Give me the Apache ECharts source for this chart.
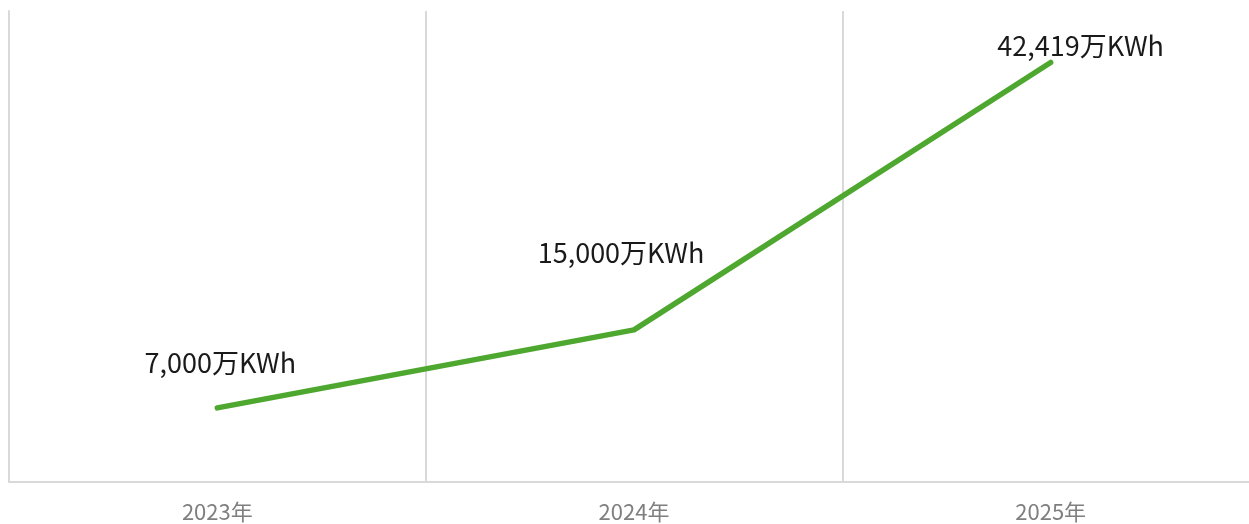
<!DOCTYPE html>
<html>
<head>
<meta charset="utf-8">
<script src="https://cdn.jsdelivr.net/npm/echarts@6/dist/echarts.min.js"></script>
<style>
  html, body { margin: 0; padding: 0; background: #fff; }
  #chart { width: 1249px; height: 524px; }
</style>
</head>
<body>
<div id="chart"></div>
<script>
// годы и значения (万KWh)
const years = ['2023年', '2024年', '2025年']
const values = [7000, 15000, 42419]
// смещения подписей относительно точки
const labelOffsets = [[3, -26], [-13, -58], [30, 2]]

const fontFamily = '"Noto Sans CJK SC", "Noto Sans", sans-serif'
const gridColor = '#d9d9d9'

const chart = echarts.init(document.getElementById('chart'))

chart.setOption({
  backgroundColor: '#ffffff',
  animation: false,
  grid: { left: 9, width: 1250, top: 11, bottom: 42, outerBoundsMode: 'none', containLabel: false },
  xAxis: {
    type: 'category',
    data: years,
    boundaryGap: true,
    axisLine: { show: true, onZero: false, lineStyle: { color: gridColor, width: 2 } },
    axisTick: { show: false },
    axisLabel: { color: '#7f7f7f', fontSize: 22, margin: 19, fontFamily },
    splitLine: { show: true, lineStyle: { color: gridColor, width: 2 } },
  },
  yAxis: {
    type: 'value',
    min: -600,
    max: 47700,
    axisLine: { show: true, lineStyle: { color: gridColor, width: 2 } },
    axisTick: { show: false },
    axisLabel: { show: false },
    splitLine: { show: false },
  },
  series: [{
    type: 'line',
    data: values.map((v, i) => ({
      value: v,
      label: { offset: labelOffsets[i] },
    })),
    showSymbol: true,
    symbol: 'circle',
    symbolSize: 1,
    itemStyle: { color: 'rgba(0,0,0,0)' },
    lineStyle: { color: '#4ea72e', width: 5.5, cap: 'round', join: 'round' },
    label: {
      show: true,
      position: 'top',
      color: '#1a1a1a',
      fontSize: 27,
      fontFamily,
      formatter: p => p.value.toLocaleString('en-US') + '万KWh',
    },
  }],
})
</script>
</body>
</html>
